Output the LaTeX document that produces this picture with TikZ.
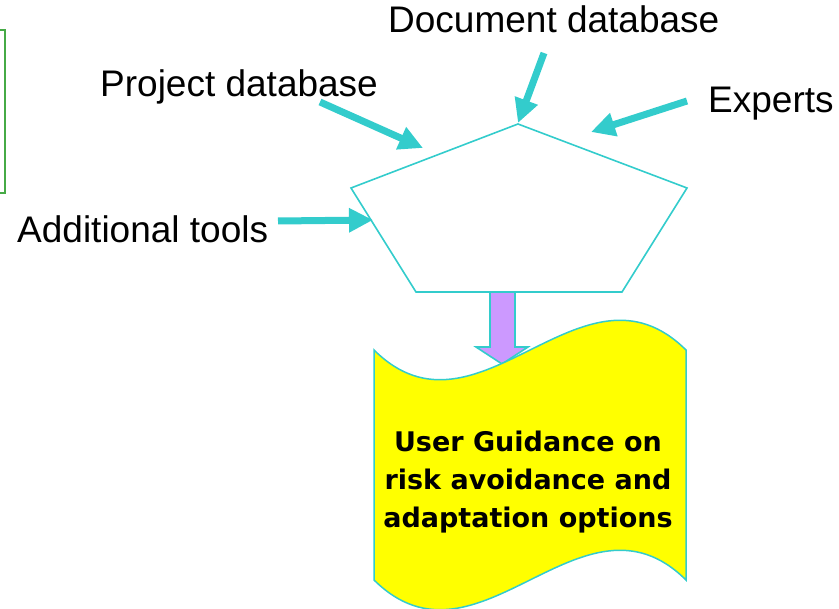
\documentclass[tikz,border=0pt]{standalone}
\usepackage{fontspec}
\setmainfont{Liberation Sans}
\newfontfamily\bannerfont{DejaVu Sans}
\usetikzlibrary{arrows.meta}
\definecolor{inflow}{RGB}{51,204,204}
\definecolor{outflow}{RGB}{204,153,255}
\definecolor{banner}{RGB}{255,255,0}
\definecolor{frame}{RGB}{70,170,70}
\tikzset{
  label/.style={inner sep=0pt, anchor=base west, font=\fontsize{37}{40}\selectfont},
  feed/.style={draw=inflow, line width=7pt,
    -{Triangle[length=24pt,width=23pt]}},
  hub/.style={draw=inflow, line width=1.6pt, line join=miter},
  outarrow/.style={draw=inflow, line width=1.6pt, fill=outflow},
  scroll/.style={draw=inflow, line width=1.5pt, fill=banner},
}
\begin{document}
\begin{tikzpicture}[x=1pt,y=-1pt]
\useasboundingbox (0,0) rectangle (839,609);

% partial frame at the left edge
\draw[frame, line width=2.6pt] (-5,30) -- (5,30) -- (5,193) -- (-5,193);

% labels
\node[label] (doc)  at (388,33)  {Document database};
\node[label] (proj) at (100,97)  {Project database};
\node[label] (exp)  at (708,113) {Experts};
\node[label] (add)  at (17,243)  {Additional tools};

% pentagon
\coordinate (ptop)   at (518,124);
\coordinate (pleft)  at (351,188);
\coordinate (pright) at (687,188);
\coordinate (pbl)    at (416,292);
\coordinate (pbr)    at (622,292);
\draw[hub] (ptop) -- (pright) -- (pbr) -- (pbl) -- (pleft) -- cycle;

% inputs
\coordinate (docT)  at (544,53);
\coordinate (docH)  at (518,123);
\coordinate (projT) at (320,102);
\coordinate (projH) at (423,148);
\coordinate (expT)  at (687,101);
\coordinate (expH)  at (591,132);
\coordinate (addT)  at (278,221);
\coordinate (addH)  at (373,220);
\draw[feed] (docT)  -- (docH);
\draw[feed] (projT) -- (projH);
\draw[feed] (expT)  -- (expH);
\draw[feed] (addT)  -- (addH);

% output block arrow
\draw[outarrow] (490,292) -- (515,292) -- (515,347) -- (528,347)
  -- (502,364) -- (476,347) -- (490,347) -- cycle;

% wavy document
\draw[scroll] (374,350)
  .. controls (478,453) and (582,247) .. (686,350)
  -- (686,580)
  .. controls (582,477) and (478,683) .. (374,580)
  -- cycle;

\node[inner sep=0pt, anchor=base, align=center,
  font=\bannerfont\bfseries\fontsize{27}{38}\selectfont] (guide) at (528,528)
  {User Guidance on\\risk avoidance and\\adaptation options};
\end{tikzpicture}
\end{document}
